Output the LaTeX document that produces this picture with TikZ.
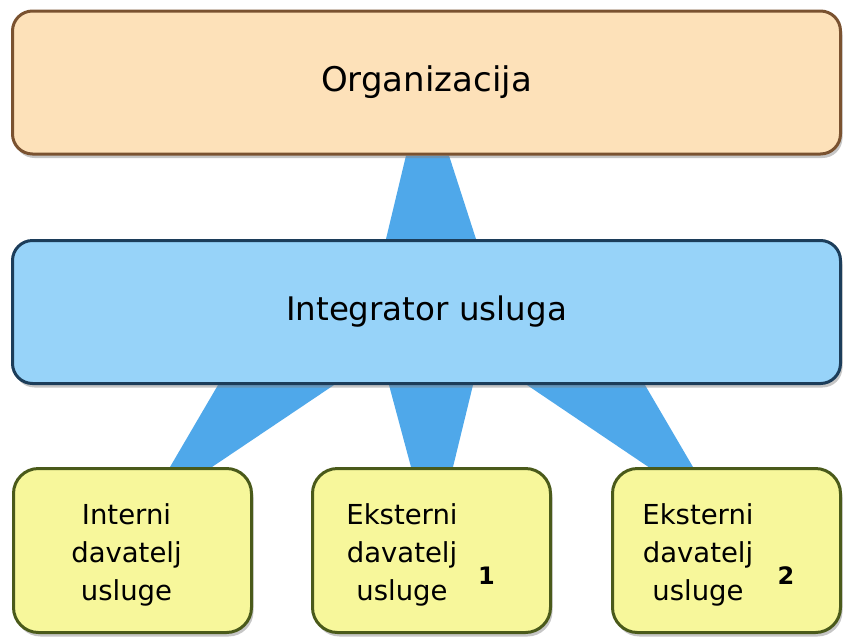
\documentclass[tikz,border=0pt]{standalone}
\usepackage{fontspec}
\setmainfont{DejaVu Sans}
\usetikzlibrary{shadows}
\usetikzlibrary{backgrounds}
\definecolor{orgfill}{HTML}{FDE1B9}
\definecolor{orgline}{HTML}{7A5230}
\definecolor{intfill}{HTML}{97D3F9}
\definecolor{intline}{HTML}{1C3D5A}
\definecolor{provfill}{HTML}{F7F79B}
\definecolor{provline}{HTML}{4A5A1A}
\definecolor{linkblue}{HTML}{4FA8EA}
\tikzset{
    widebox/.style={draw, line width=3pt, rounded corners=20pt, minimum width=828pt, minimum height=143pt, inner sep=0pt,
        drop shadow={shadow xshift=2pt, shadow yshift=-4pt, opacity=0.45}},
    provbox/.style={draw=provline, fill=provfill, line width=3pt, rounded corners=25pt, minimum height=164pt, inner sep=0pt,
        drop shadow={shadow xshift=2pt, shadow yshift=-4pt, opacity=0.45}},
    provtext/.style={align=center, inner sep=0pt, font=\fontsize{27.5}{38}\selectfont},
    provnum/.style={inner sep=0pt, font=\fontsize{24}{28}\selectfont\bfseries},
    link/.style={fill=linkblue}
}
\begin{document}
\begin{tikzpicture}[x=1pt,y=-1pt]
		\useasboundingbox (0,0) rectangle (844,638);

		%top levels
		\node[widebox, draw=orgline, fill=orgfill, font=\fontsize{34}{40}\selectfont] (org) at (426.5,82.5) {Organizacija};
		\node[widebox, draw=intline, fill=intfill, font=\fontsize{32.5}{38}\selectfont] (integ) at (426.5,312) {Integrator usluga};

		%providers
		\node[provbox, minimum width=238pt] (b1) at (132.5,550.5) {};
		\node[provbox, minimum width=238pt] (b2) at (431.5,550.5) {};
		\node[provbox, minimum width=228pt] (b3) at (726.5,550.5) {};
		\node[provtext] (t1) at ([xshift=-6pt,yshift=-4pt]b1.center) {Interni\\davatelj\\usluge};
		\node[provtext] (t2) at ([xshift=-29.5pt,yshift=-4pt]b2.center) {Eksterni\\davatelj\\usluge};
		\node[provtext] (t3) at ([xshift=-28.5pt,yshift=-4pt]b3.center) {Eksterni\\davatelj\\usluge};
		\node[provnum] (n1) at ([xshift=55pt,yshift=-25pt]b2.center) {1};
		\node[provnum] (n2) at ([xshift=59.5pt,yshift=-25pt]b3.center) {2};

		%links
		\begin{scope}[on background layer]
		\fill[link] ([xshift=-20.5pt]org.south) -- ([xshift=22.5pt]org.south) -- ([xshift=49.5pt]integ.north) -- ([xshift=-40.5pt]integ.north) -- cycle;
		\fill[link] ([xshift=-208.5pt]integ.south) -- ([xshift=-92.5pt]integ.south) -- ([xshift=79.5pt]b1.north) -- ([xshift=37.5pt]b1.north) -- cycle;
		\fill[link] ([xshift=-37.5pt]integ.south) -- ([xshift=46.5pt]integ.south) -- ([xshift=21.5pt]b2.north) -- ([xshift=-20.5pt]b2.north) -- cycle;
		\fill[link] ([xshift=100.5pt]integ.south) -- ([xshift=218.5pt]integ.south) -- ([xshift=-33.5pt]b3.north) -- ([xshift=-78pt]b3.north) -- cycle;
		\end{scope}

	\end{tikzpicture}
\end{document}
